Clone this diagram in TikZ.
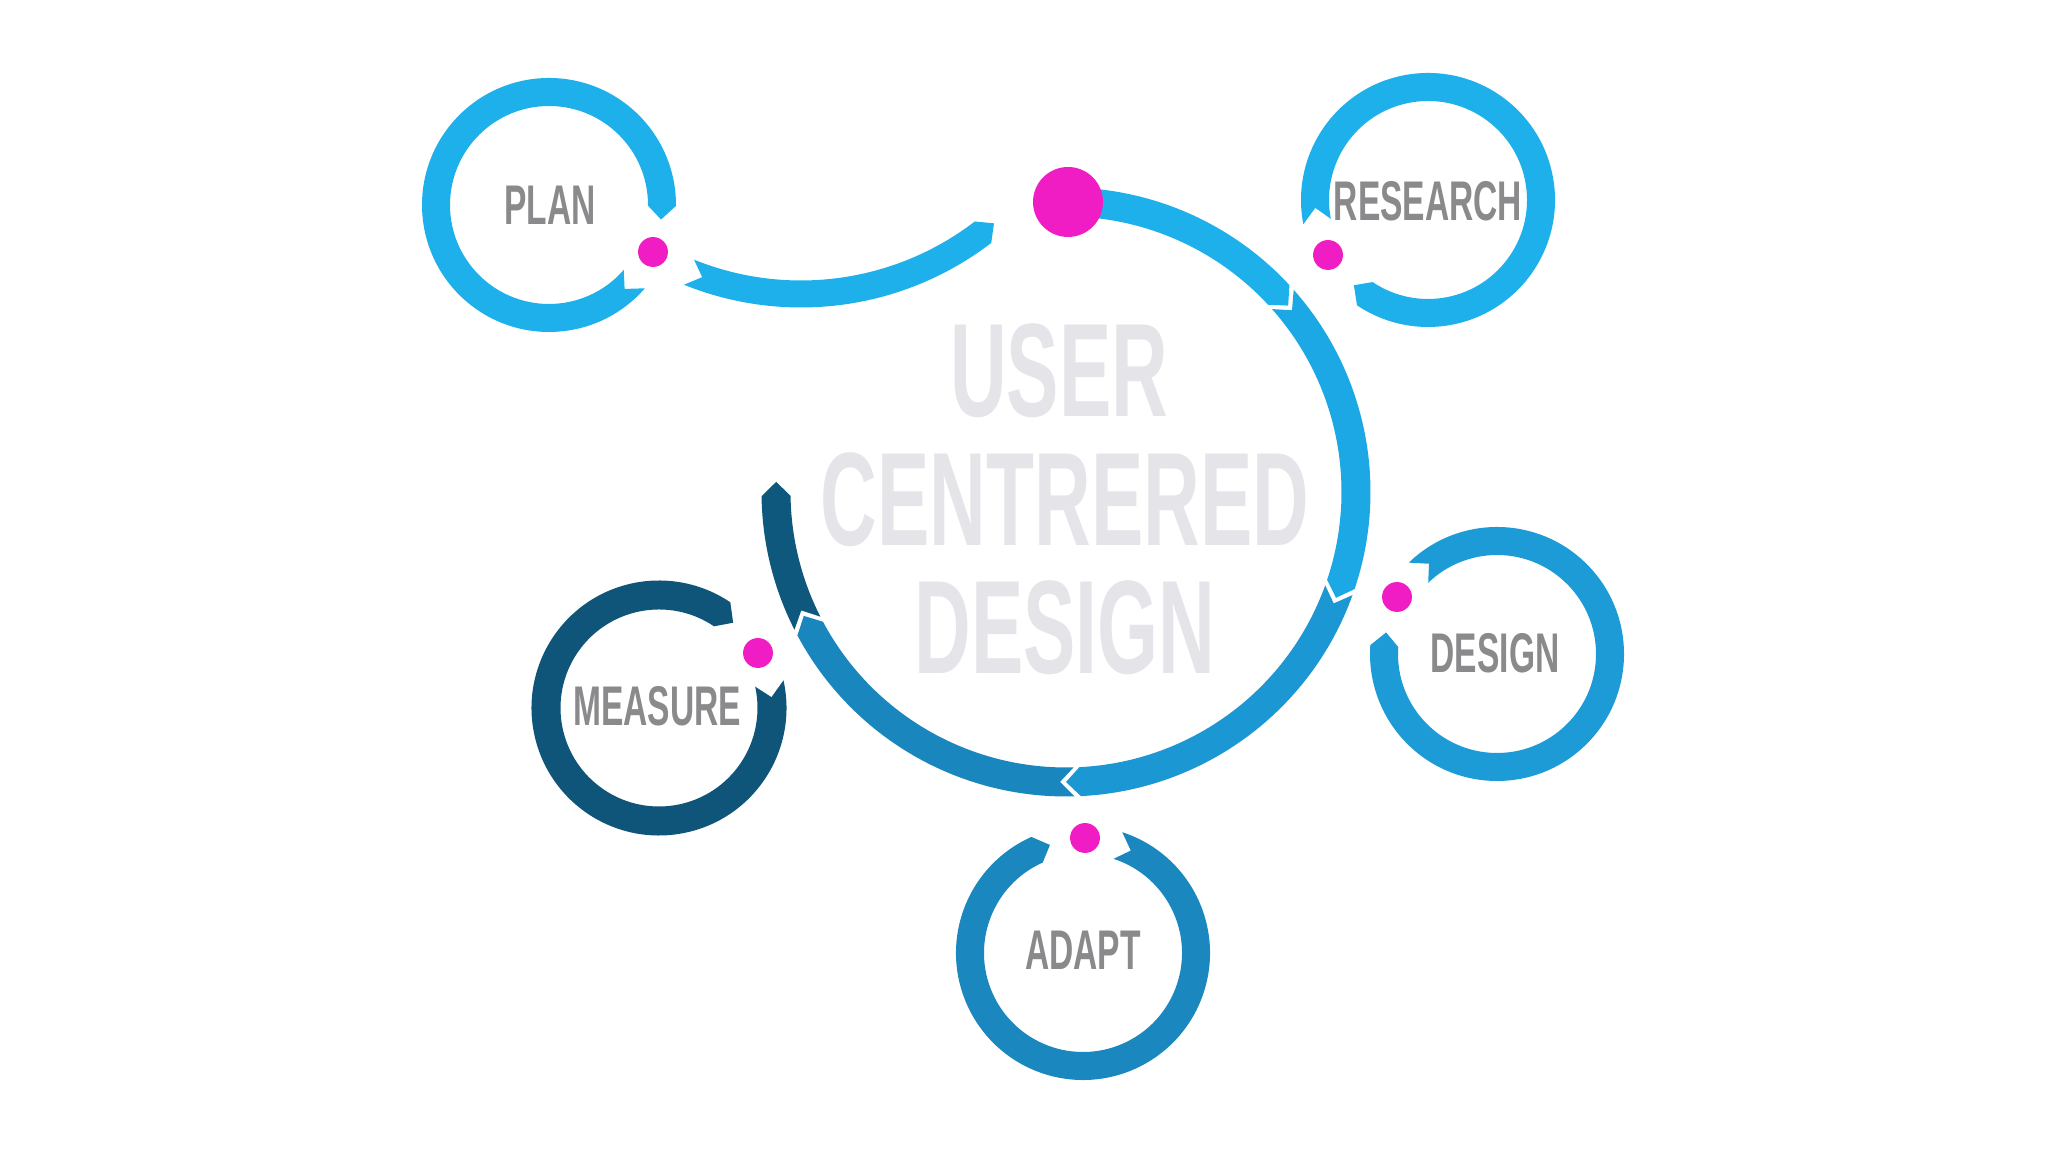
\documentclass[tikz,border=0pt]{standalone}
\usepackage{fontspec}
\setmainfont{Liberation Sans}
\usepackage{graphicx}
\definecolor{skyA}{RGB}{29,176,235}
\definecolor{skyB}{RGB}{27,168,229}
\definecolor{midblue}{RGB}{27,151,211}
\definecolor{deepblue}{RGB}{26,134,190}
\definecolor{navyseg}{RGB}{15,88,125}
\definecolor{designring}{RGB}{29,155,215}
\definecolor{adaptring}{RGB}{26,136,190}
\definecolor{measurering}{RGB}{15,84,121}
\definecolor{magentadot}{RGB}{240,28,196}
\definecolor{labelgray}{RGB}{138,138,140}
\definecolor{ghost}{RGB}{229,229,233}
% #1 cx, #2 cy, #3 radius, #4 half width, #5 start angle (notch), #6 end angle (tip), #7 tip offset (deg, signed), #8 colour
\newcommand{\ringseg}[8]{%
  \pgfmathsetmacro{\segRo}{#3+#4}%
  \pgfmathsetmacro{\segRi}{#3-#4}%
  \pgfmathsetmacro{\segTip}{#6+#7}%
  \pgfmathsetmacro{\segNotch}{#5+#7}%
  \fill[#8, shift={(#1,#2)}] (#5:\segRo) arc[start angle=#5, end angle=#6, radius=\segRo]
    -- (\segTip:#3) -- (#6:\segRi) arc[start angle=#6, end angle=#5, radius=\segRi]
    -- (\segNotch:#3) -- cycle;
}
\newcommand{\condlabel}[1]{\scalebox{0.6}[1]{#1}}
\newcommand{\condghost}[1]{\scalebox{0.59}[1]{#1}}
\begin{document}
\begin{tikzpicture}[x=0.01cm, y=0.01cm,
  steplabel/.style={inner sep=0pt, text=labelgray, font=\bfseries\fontsize{15.9}{16}\selectfont},
  ghosttext/.style={inner sep=0pt, text=ghost, font=\bfseries\fontsize{37.8}{38}\selectfont},
  smalldot/.style={circle, fill=magentadot, inner sep=0pt, minimum size=8.5pt},
  bigdot/.style={circle, fill=magentadot, inner sep=0pt, minimum size=19.9pt}]
\fill[white] (0,0) rectangle (2048,1152);
\useasboundingbox (0,0) rectangle (2048,1152);

% centre text
\node[ghosttext] (ucd1) at (1059,781) {\condghost{USER}};
\node[ghosttext] (ucd2) at (1065,652) {\condghost{CENTRERED}};
\node[ghosttext] (ucd3) at (1065,524) {\condghost{DESIGN}};

% big cycle
\ringseg{1066}{660}{290}{14.5}{90}{42.8}{-2.8}{skyA}
\ringseg{1066}{660}{290}{14.5}{41.6}{-18.6}{-2.8}{skyB}
\ringseg{1066}{660}{290}{14.5}{-19.8}{-87.2}{-2.8}{midblue}
\ringseg{1066}{660}{290}{14.5}{-88.4}{-151.9}{-2.8}{deepblue}
\ringseg{1066}{660}{290}{14.5}{-153.1}{-179.2}{-2.8}{navyseg}

% connector from PLAN
\ringseg{801}{1157}{299}{13.5}{-112}{-52.5}{2.7}{skyA}

% small rings
\ringseg{549}{947}{113}{14}{-41}{-360.4}{-7}{skyA}
\ringseg{1428}{952}{113}{14}{191}{-124}{-7}{skyA}
\ringseg{1497}{498}{113}{14}{134}{-184}{-7}{designring}
\ringseg{659}{444}{113}{14.5}{12.5}{-304}{-7}{measurering}
\ringseg{1083}{199}{113}{14}{72}{-246}{-7}{adaptring}

% dots
\node[bigdot] (start) at (1068,950) {};
\node[smalldot] (dplan) at (653,900) {};
\node[smalldot] (dresearch) at (1328,897) {};
\node[smalldot] (ddesign) at (1397,555) {};
\node[smalldot] (dmeasure) at (758,499) {};
\node[smalldot] (dadapt) at (1085,314) {};

% labels
\node[steplabel] (plan) at (550,947) {\condlabel{PLAN}};
\node[steplabel] (research) at (1428,951) {\condlabel{RESEARCH}};
\node[steplabel] (design) at (1495,499) {\condlabel{DESIGN}};
\node[steplabel] (measure) at (657,446) {\condlabel{MEASURE}};
\node[steplabel] (adapt) at (1083,202) {\condlabel{ADAPT}};
\end{tikzpicture}
\end{document}
